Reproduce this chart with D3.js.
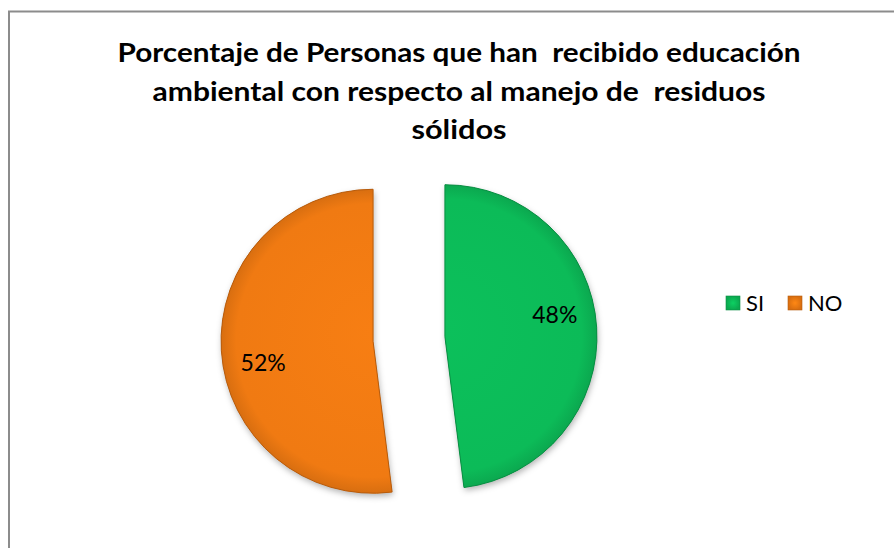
<!DOCTYPE html>
<html>
<head>
<meta charset="utf-8">
<script src="https://cdn.jsdelivr.net/npm/d3@7"></script>
<style>
  html, body { margin: 0; padding: 0; background: #fff; }
  svg { display: block; }
  text { white-space: pre; }
</style>
</head>
<body>
<svg id="chart" width="894" height="548"></svg>
<script>
// ---- data ----
const categories = ["SI", "NO"];
const values = [48, 52];
const labels = ["48%", "52%"];
const colors = ["#0cbb58", "#f07a12"];
const edgeColors = ["#0a8d43", "#b65c0e"];
const titleLines = [
  "Porcentaje de Personas que han  recibido educación",
  "ambiental con respecto al manejo de  residuos",
  "sólidos"
];

const svg = d3.select("#chart");
const W = 894, H = 548;

// frame (chart area border, extends beyond right/bottom)
svg.append("path")
  .attr("d", `M9,${H + 5} L9,11.5 L${W + 5},11.5`)
  .attr("fill", "none")
  .attr("stroke", "#8c8c8c")
  .attr("stroke-width", 2);

// title
const titleWidths = [683, 613, 95];
const title = svg.append("g");
titleLines.forEach((t, i) => {
  title.append("text")
    .attr("x", 459)
    .attr("y", 62 + i * 38.7)
    .attr("text-anchor", "middle")
    .attr("font-family", "Lato, 'Open Sans', sans-serif")
    .attr("font-weight", "bold")
    .attr("font-size", 26.5)
    .attr("fill", "#000")
    .attr("textLength", titleWidths[i])
    .attr("lengthAdjust", "spacingAndGlyphs")
    .text(t);
});

// defs
const defs = svg.append("defs");
const shadow = defs.append("filter").attr("id", "shadow")
  .attr("x", "-20%").attr("y", "-20%").attr("width", "140%").attr("height", "140%");
shadow.append("feDropShadow")
  .attr("dx", 1).attr("dy", 3).attr("stdDeviation", 3)
  .attr("flood-color", "#000").attr("flood-opacity", 0.3);

// pie
const cx = 409, cy = 339, R = 152, explode = 36;
const pie = d3.pie().sort(null).value(d => d)
  .startAngle(0).endAngle(2 * Math.PI);
const arcs = pie(values);
const arc = d3.arc().innerRadius(0).outerRadius(R);

arcs.forEach((a, i) => {
  const mid = (a.startAngle + a.endAngle) / 2;
  const ox = explode * Math.sin(mid), oy = -explode * Math.cos(mid);
  const gid = "grad" + i;
  const grad = defs.append("radialGradient").attr("id", gid)
    .attr("gradientUnits", "userSpaceOnUse")
    .attr("cx", 0).attr("cy", 0).attr("r", R)
    .attr("fx", 0).attr("fy", -10);
  grad.append("stop").attr("offset", "0%").attr("stop-color", d3.color(colors[i]).brighter(0.08));
  grad.append("stop").attr("offset", "90%").attr("stop-color", colors[i]);
  grad.append("stop").attr("offset", "100%").attr("stop-color", d3.color(colors[i]).darker(0.3));

  const sg = svg.append("g").attr("transform", `translate(${cx + ox},${cy + oy})`);
  sg.append("path")
    .attr("d", arc(a))
    .attr("fill", colors[i])
    .attr("filter", "url(#shadow)");
  sg.append("path")
    .attr("d", arc(a))
    .attr("fill", `url(#${gid})`)
    .attr("stroke", edgeColors[i])
    .attr("stroke-width", 1)
    .attr("stroke-linejoin", "round");

  // label
  const la = mid - 7.5 * Math.PI / 180, lr = 112;
  sg.append("text")
    .attr("x", lr * Math.sin(la))
    .attr("y", -lr * Math.cos(la))
    .attr("dy", "0.36em")
    .attr("text-anchor", "middle")
    .attr("font-family", "Lato, 'Open Sans', sans-serif")
    .attr("font-size", 23)
    .attr("fill", "#000")
    .text(labels[i]);
});

// legend
const legend = svg.append("g").attr("transform", "translate(726,296)");
const legX = [0, 62];
categories.forEach((c, i) => {
  const lg = legend.append("g").attr("transform", `translate(${legX[i]},0)`);
  const lgid = "lgrad" + i;
  const lgr = defs.append("radialGradient").attr("id", lgid);
  lgr.append("stop").attr("offset", "0%").attr("stop-color", d3.color(colors[i]).brighter(0.3));
  lgr.append("stop").attr("offset", "100%").attr("stop-color", d3.color(colors[i]).darker(0.3));
  lg.append("rect")
    .attr("width", 14).attr("height", 14)
    .attr("fill", `url(#${lgid})`)
    .attr("stroke", edgeColors[i]).attr("stroke-width", 0.6);
  lg.append("text")
    .attr("x", 20).attr("y", 14.5)
    .attr("font-family", "Lato, 'Open Sans', sans-serif")
    .attr("font-size", 22)
    .attr("fill", "#000")
    .text(c);
});
</script>
</body>
</html>
